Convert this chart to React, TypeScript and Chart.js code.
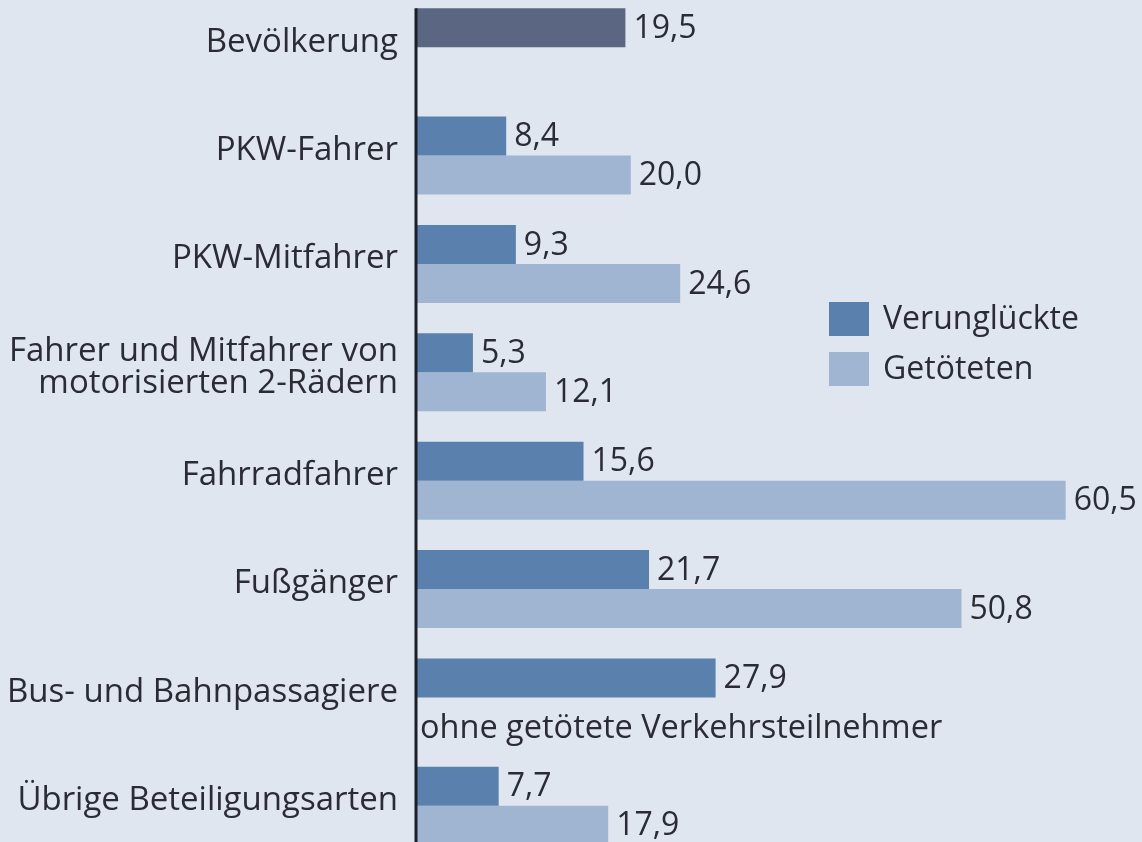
import React, { useEffect, useRef } from "react";
import { Chart, registerables } from "chart.js";

Chart.register(...registerables);

const categories: (string | string[])[] = [
  "Bevölkerung",
  "PKW-Fahrer",
  "PKW-Mitfahrer",
  ["Fahrer und Mitfahrer von", "motorisierten 2-Rädern"],
  "Fahrradfahrer",
  "Fußgänger",
  "Bus- und Bahnpassagiere",
  "Übrige Beteiligungsarten",
];
const verunglueckte: (number | null)[] = [19.5, 8.4, 9.3, 5.3, 15.6, 21.7, 27.9, 7.7];
const getoetete: (number | null)[] = [null, 20.0, 24.6, 12.1, 60.5, 50.8, null, 17.9];
const seriesNames = ["Verunglückte", "Getöteten"];
const noteText = "ohne getötete Verkehrsteilnehmer";
const noteCategoryIndex = 6;

const BG = "#dfe6f0";
const DARK = "#5a80ad";
const LIGHT = "#a0b5d1";
const POP = "#5b6782";
const TEXT = "#2b2b35";
const AXIS = "#1e1e28";
const FONT = "'Open Sans', sans-serif";
const FSIZE = 32;
const TICK_SIZE = 33;
const NOTE_SIZE = 32.5;
const SHIFT = -20;

const fmt = (v: number) => v.toFixed(1).replace(".", ",");

const drawPlugin = {
  id: "customDraw",
  afterDatasetsDraw(chart: any) {
    const ctx = chart.ctx as CanvasRenderingContext2D;
    const area = chart.chartArea;
    ctx.save();
    // axis line
    const first = chart.getDatasetMeta(0).data[0];
    ctx.strokeStyle = AXIS;
    ctx.lineWidth = 3;
    ctx.beginPath();
    ctx.moveTo(area.left, first.y - first.height / 2);
    ctx.lineTo(area.left, area.bottom);
    ctx.stroke();

    ctx.font = `${FSIZE}px ${FONT}`;
    ctx.fillStyle = TEXT;
    ctx.textBaseline = "middle";
    ctx.textAlign = "left";
    chart.data.datasets.forEach((ds: any, di: number) => {
      const meta = chart.getDatasetMeta(di);
      meta.data.forEach((bar: any, i: number) => {
        const v = ds.data[i];
        if (v == null) return;
        ctx.fillText(fmt(v), bar.x + 8, bar.y + 1);
      });
    });

    // note
    const b0 = chart.getDatasetMeta(0).data[noteCategoryIndex];
    ctx.font = `${NOTE_SIZE}px ${FONT}`;
    ctx.fillText(noteText, area.left + 4, b0.y + b0.height + 12);

    // legend
    ctx.font = `${FSIZE}px ${FONT}`;
    const lx = area.left + 413;
    const colors = [DARK, LIGHT];
    seriesNames.forEach((name, i) => {
      const top = 302 - SHIFT + i * 50;
      ctx.fillStyle = colors[i];
      ctx.fillRect(lx, top, 40, 34);
      ctx.fillStyle = TEXT;
      ctx.fillText(name, lx + 54, top + 18);
    });
    ctx.restore();
  },
};

export default function App() {
  const ref = useRef<HTMLCanvasElement>(null);
  useEffect(() => {
    if (!ref.current) return;
    const chart = new Chart(ref.current, {
      type: "bar",
      data: {
        labels: categories,
        datasets: [
          {
            label: seriesNames[0],
            data: verunglueckte,
            backgroundColor: categories.map((_, i) => (i === 0 ? POP : DARK)),
            categoryPercentage: 0.72,
            barPercentage: 1,
          },
          {
            label: seriesNames[1],
            data: getoetete,
            backgroundColor: LIGHT,
            categoryPercentage: 0.72,
            barPercentage: 1,
          },
        ],
      },
      options: {
        indexAxis: "y",
        animation: false,
        responsive: true,
        maintainAspectRatio: false,
        layout: { padding: { top: 13, bottom: 20, right: 28, left: 0 } },
        plugins: {
          legend: { display: false },
          tooltip: { enabled: false },
        },
        scales: {
          x: { display: false, min: 0, max: 65 },
          y: {
            grid: { display: false, drawTicks: false },
            border: { display: false },
            ticks: {
              color: TEXT,
              font: { family: FONT, size: TICK_SIZE, lineHeight: 0.98 },
              padding: 18,
              labelOffset: -5,
              autoSkip: false,
            },
            afterFit: (s: any) => {
              s.width = 416;
              s.paddingTop = 0;
              s.paddingBottom = 0;
            },
          },
        },
      },
      plugins: [drawPlugin],
    } as any);
    return () => chart.destroy();
  }, []);

  return (
    <div
      style={{
        position: "fixed",
        left: 0,
        top: 0,
        width: 1142,
        height: 842,
        overflow: "hidden",
        background: BG,
      }}
    >
      <div style={{ position: "absolute", left: 0, top: SHIFT, width: 1142, height: 900 }}>
        <canvas ref={ref} />
      </div>
    </div>
  );
}
